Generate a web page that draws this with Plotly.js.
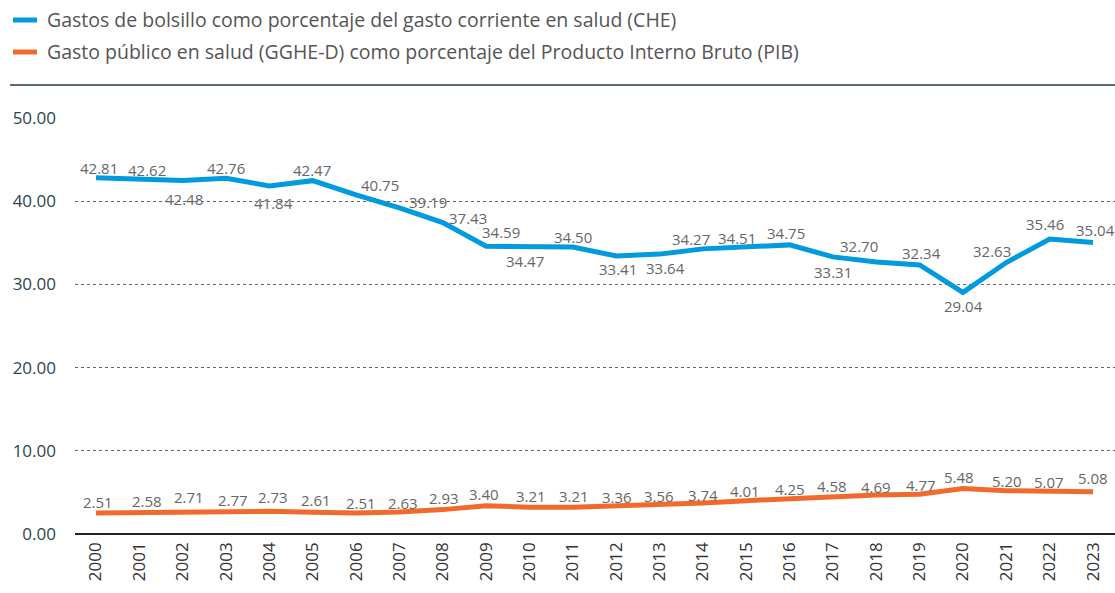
<!DOCTYPE html>
<html>
<head>
<meta charset="utf-8">
<script src="https://cdn.plot.ly/plotly-3.0.1.min.js"></script>
<style>html,body{margin:0;padding:0;background:#fff;}#chart{width:1115px;height:593px;}</style>
</head>
<body>
<div id="chart"></div>
<script>
const years = ["2000","2001","2002","2003","2004","2005","2006","2007","2008","2009","2010","2011","2012","2013","2014","2015","2016","2017","2018","2019","2020","2021","2022","2023"];
const seriesNames = [
  "Gastos de bolsillo como porcentaje del gasto corriente en salud (CHE)",
  "Gasto público en salud (GGHE-D) como porcentaje del Producto Interno Bruto (PIB)"
];
const outOfPocketCHE = [42.81,42.62,42.48,42.76,41.84,42.47,40.75,39.19,37.43,34.59,34.47,34.50,33.41,33.64,34.27,34.51,34.75,33.31,32.70,32.34,29.04,32.63,35.46,35.04];
const publicGDP = [2.51,2.58,2.71,2.77,2.73,2.61,2.51,2.63,2.93,3.40,3.21,3.21,3.36,3.56,3.74,4.01,4.25,4.58,4.69,4.77,5.48,5.20,5.07,5.08];
const yTicks = [0,10,20,30,40,50];

// label placement (style only, pixels)
const blueDx = [3,8,1,0,4,-1,24,29,25,15,-4,0,2,6,-12,-9,-4,0,-17,2,1,-14,-5,2];
const blueDy = [10,9,-18,10,-17,11,10,6,5,14,-14,10,-13,-14,10,9,12,-15,16,12,-14,12,15,12];
const orangeDx = [2,8,6,7,4,3,5,4,1,-2,2,1,1,-1,0,-1,0,-1,0,1,-4,1,-1,0];
const orangeDy = [11,12,14,11,14,12,10,9,12,12,11,11,9,8,8,10,10,10,8,9,11,10,10,14];

const colors = ["#009ADE", "#F26A2B"];
const fam = "Open Sans, Noto Sans, sans-serif";

// layout geometry (pixels)
const W = 1115, H = 593, L = 75, R = 0, T = 118, B = 59;
const pw = W - L - R, ph = H - T - B;
const px2x = p => (p - L) / pw;
const py2y = p => (H - B - p) / ph;

const traces = [
  {x: years, y: outOfPocketCHE, name: seriesNames[0], type: "scatter", mode: "lines",
   line: {color: colors[0], width: 5}, hoverinfo: "skip"},
  {x: years, y: publicGDP, name: seriesNames[1], type: "scatter", mode: "lines",
   line: {color: colors[1], width: 5}, hoverinfo: "skip"}
];

const annotations = [];
const labelFont = {family: fam, size: 15, color: "#666"};
[[outOfPocketCHE, blueDx, blueDy], [publicGDP, orangeDx, orangeDy]].forEach(([vals, dx, dy]) => {
  vals.forEach((v, i) => {
    // category axis: annotation x is the category index
    annotations.push({xref: "x", yref: "y", x: i, y: v, text: v.toFixed(2), showarrow: false,
      xanchor: "center", yanchor: "middle", xshift: dx[i], yshift: dy[i], font: labelFont});
  });
});

const legendY = [20, 52];
const shapes = [
  {type: "line", xref: "paper", yref: "paper", x0: px2x(10), x1: 1, y0: py2y(85), y1: py2y(85),
   line: {color: "#5b6b73", width: 2}}
];
seriesNames.forEach((n, i) => {
  shapes.push({type: "line", xref: "paper", yref: "paper", x0: px2x(13), x1: px2x(37),
    y0: py2y(legendY[i]), y1: py2y(legendY[i]), line: {color: colors[i], width: 5}});
  annotations.push({xref: "paper", yref: "paper", x: px2x(45), y: py2y(legendY[i]), xanchor: "left", yanchor: "middle",
    text: n, showarrow: false, font: {family: fam, size: 19.5, color: "#555"}});
});

const layout = {
  width: W, height: H,
  margin: {l: L, r: R, t: T, b: B},
  paper_bgcolor: "#fff", plot_bgcolor: "#fff",
  font: {family: fam},
  showlegend: false,
  xaxis: {type: "category", range: [-0.484, 23.507], tickvals: years, ticktext: years, tickangle: -90, showgrid: false, zeroline: false,
          showline: false, ticks: "", ticklabelstandoff: 4, tickfont: {family: fam, size: 17, color: "#333"}, fixedrange: true},
  yaxis: {range: [0, 50], tickvals: yTicks, ticktext: yTicks.map(v => v.toFixed(2)), showgrid: true,
          gridcolor: "#666", griddash: "dot", gridwidth: 1, zeroline: true, zerolinecolor: "#222", zerolinewidth: 1.5,
          showline: false, ticks: "", ticklabelstandoff: 18, tickfont: {family: fam, size: 17, color: "#2b4553"}, fixedrange: true},
  shapes: shapes,
  annotations: annotations
};

Plotly.newPlot("chart", traces, layout, {displayModeBar: false, responsive: false});
</script>
</body>
</html>
